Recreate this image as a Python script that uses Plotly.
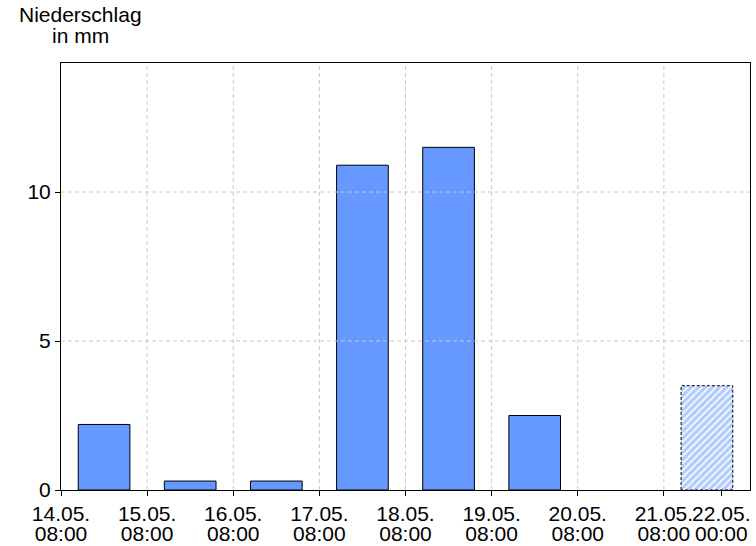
import plotly.graph_objects as go

# ---- data ----
tick_dates = ["14.05.", "15.05.", "16.05.", "17.05.", "18.05.", "19.05.", "20.05.", "21.05.", "22.05."]
tick_times = ["08:00", "08:00", "08:00", "08:00", "08:00", "08:00", "08:00", "08:00", "00:00"]
tick_pos = [0, 1, 2, 3, 4, 5, 6, 7, 7 + 16 / 24]  # days since 14.05. 08:00

measured_day = [0, 1, 2, 3, 4, 5, 6]
measured_mm = [2.2, 0.3, 0.3, 10.9, 11.5, 2.5, 0.0]
forecast_day = [7]
forecast_mm = [3.5]

y_ticks = [0, 5, 10]
y_max = 14.33
bar_width = 0.6

FONT = "Liberation Sans, Arial, sans-serif"
FS = 21
BLUE = "#6699ff"

W, H = 756, 546
L, R, T, B = 61, 6, 63, 56

fig = go.Figure()

fig.add_trace(go.Bar(
    x=[d + 0.5 for d in measured_day], y=measured_mm, width=bar_width,
    marker=dict(color=BLUE, line=dict(color="black", width=[1 if v > 0 else 0 for v in measured_mm])),
    showlegend=False, hoverinfo="skip",
))

fig.add_trace(go.Bar(
    x=[d + 0.5 for d in forecast_day], y=forecast_mm, width=bar_width,
    marker=dict(color="white", line=dict(width=0),
                pattern=dict(shape="/", fgcolor=BLUE, bgcolor="white", size=5, solidity=0.7)),
    showlegend=False, hoverinfo="skip",
))

# dashed outline of the forecast bar
for d, v in zip(forecast_day, forecast_mm):
    c = d + 0.5
    fig.add_trace(go.Scatter(
        x=[c - bar_width / 2, c - bar_width / 2, c + bar_width / 2, c + bar_width / 2, c - bar_width / 2],
        y=[0, v, v, 0, 0], mode="lines",
        line=dict(color="black", width=1, dash="3px,2px"),
        showlegend=False, hoverinfo="skip",
    ))

# invisible trace to anchor the second (time-line) x axis
fig.add_trace(go.Scatter(x=[0], y=[0], xaxis="x2", mode="markers",
                         marker=dict(opacity=0), showlegend=False, hoverinfo="skip"))

shapes = []
for t in tick_pos[1:8]:
    shapes.append(dict(type="line", xref="x", yref="paper", x0=t, x1=t, y0=0, y1=1,
                       line=dict(color="#c8c8c8", width=1, dash="4px,3px"), layer="above"))
for t in y_ticks[1:]:
    shapes.append(dict(type="line", xref="paper", yref="y", x0=0, x1=1, y0=t, y1=t,
                       line=dict(color="#c8c8c8", width=1, dash="4px,3px"), layer="above"))

pw = W - L - R
ph = H - T - B
title_x = (80 - L) / pw

fig.update_layout(
    width=W, height=H,
    margin=dict(l=L, r=R, t=T, b=B),
    paper_bgcolor="white", plot_bgcolor="white",
    font=dict(family=FONT, size=FS, color="black"),
    barmode="overlay",
    shapes=shapes,
    xaxis=dict(range=[0, 8], tickmode="array", tickvals=tick_pos, ticktext=tick_dates,
               showgrid=False, zeroline=False, showline=True, linecolor="black", linewidth=1,
               mirror=True, ticks="outside", ticklen=5, tickcolor="black", automargin=False,
               tickfont=dict(size=FS), tickangle=0, ticklabelstandoff=0),
    xaxis2=dict(range=[0, 8], overlaying="x", side="bottom", anchor="y", tickmode="array",
                tickvals=tick_pos, ticktext=tick_times, showgrid=False, zeroline=False,
                showline=False, ticks="", tickfont=dict(size=FS), tickangle=0, automargin=False,
                ticklabelstandoff=29),
    yaxis=dict(range=[0, y_max], tickmode="array", tickvals=y_ticks, automargin=False,
               showgrid=False, zeroline=False, showline=True, linecolor="black", linewidth=1,
               mirror=True, ticks="outside", ticklen=5, tickcolor="black",
               tickfont=dict(size=FS)),
    annotations=[
        dict(text="Niederschlag", xref="paper", yref="paper", x=title_x, y=1 + (T - 2) / ph,
             xanchor="center", yanchor="top", showarrow=False, font=dict(size=FS), borderpad=0),
        dict(text="in mm", xref="paper", yref="paper", x=title_x, y=1 + (T - 23) / ph,
             xanchor="center", yanchor="top", showarrow=False, font=dict(size=FS), borderpad=0),
    ],
)

fig.write_html("out.html", config={"displayModeBar": False},
               post_script="document.body.style.margin='0';")
